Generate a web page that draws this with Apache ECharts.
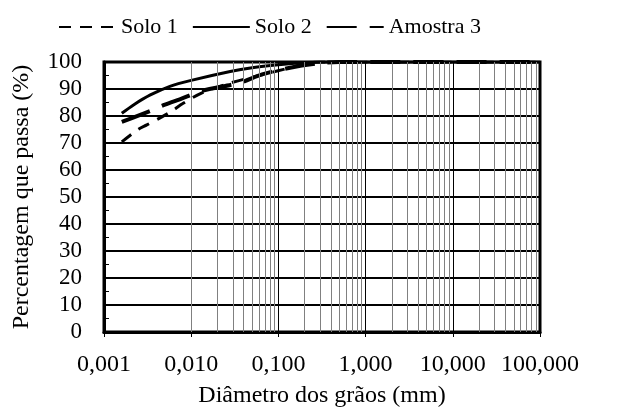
<!DOCTYPE html>
<html>
<head>
<meta charset="utf-8">
<script src="https://cdn.jsdelivr.net/npm/echarts@6/dist/echarts.min.js"></script>
<style>
  html, body { margin: 0; padding: 0; background: #fff; }
  #chart { width: 627px; height: 417px; }
</style>
</head>
<body>
<div id="chart"></div>
<script>
var solo1D = [0.0016, 0.0024, 0.0031, 0.0044, 0.006, 0.008, 0.0133, 0.028, 0.065, 0.136, 0.19, 0.3, 100];
var solo1P = [70.4, 74.8, 76.7, 79.3, 81.8, 84.6, 88.6, 92.2, 95.3, 97.9, 99.3, 100, 100];

var solo2D = [0.0016, 0.0022, 0.0034, 0.0057, 0.01, 0.028, 0.05, 0.1, 0.2, 0.3, 100];
var solo2P = [81, 84.2, 87.8, 91, 93.2, 96.5, 97.9, 99, 99.8, 100, 100];

var amostraD = [0.0016, 0.0034, 0.005, 0.0074, 0.0133, 0.036, 0.065, 0.136, 0.3, 0.5, 100];
var amostraP = [77.8, 81.9, 84.2, 86.2, 89.3, 92.3, 95.4, 97.9, 99.6, 100, 100];

var xTicks = [0.001, 0.01, 0.1, 1, 10, 100];
var minorFactors = [2, 3, 4, 5, 6, 7, 8, 9];

function pairs(xs, ys) {
  return xs.map(function(x, i) { return [x, ys[i]]; });
}

// minor vertical grid lines at 2..9 x each decade
var minorLines = [];
xTicks.slice(0, -1).forEach(function(d) {
  minorFactors.forEach(function(f) { minorLines.push({ xAxis: d * f }); });
});

var font = 'Liberation Serif';
var chart = echarts.init(document.getElementById('chart'), null, { renderer: 'canvas' });
chart.setOption({
  animation: false,
  textStyle: { fontFamily: font, color: '#000' },
  legend: {
    left: 53,
    top: 11,
    itemWidth: 57,
    itemHeight: 14,
    itemGap: 14,
    itemStyle: { opacity: 0 },
    textStyle: { fontFamily: font, fontSize: 22, color: '#000' },
    data: ['Solo 1', 'Solo 2', 'Amostra 3']
  },
  grid: {
    left: 104, right: 87, top: 62, bottom: 85,
    show: true, borderColor: '#000', borderWidth: 3
  },
  xAxis: {
    type: 'log',
    logBase: 10,
    min: 0.001,
    max: 100,
    name: 'Diâmetro dos grãos (mm)',
    nameLocation: 'middle',
    nameGap: 52,
    nameTextStyle: { fontFamily: font, fontSize: 24, color: '#000' },
    axisLine: { show: true, lineStyle: { color: '#000', width: 3 } },
    axisTick: { show: true, length: 5, lineStyle: { color: '#000', width: 1 } },
    axisLabel: {
      fontFamily: font, fontSize: 24, color: '#000', margin: 21,
      formatter: function(v) { return v.toFixed(3).replace('.', ','); }
    },
    splitLine: { show: true, lineStyle: { color: '#000', width: 1 } }
  },
  yAxis: {
    type: 'value',
    min: 0,
    max: 100,
    interval: 10,
    name: 'Percentagem que passa (%)',
    nameLocation: 'middle',
    nameGap: 70,
    nameTextStyle: { fontFamily: font, fontSize: 24, color: '#000' },
    axisLine: { show: true, lineStyle: { color: '#000', width: 3 } },
    axisTick: { show: true, inside: true, length: 0 },
    minorTick: { show: true, splitNumber: 2, length: 5, lineStyle: { color: '#000', width: 1 } },
    axisLabel: { fontFamily: font, fontSize: 23, color: '#000', margin: 22 },
    splitLine: { show: true, lineStyle: { color: '#000', width: 2 } }
  },
  series: [
    {
      name: 'grid-minor',
      type: 'line',
      data: [],
      silent: true,
      markLine: {
        silent: true,
        symbol: 'none',
        label: { show: false },
        lineStyle: { color: '#808080', width: 1, type: 'solid' },
        data: minorLines
      }
    },
    {
      name: 'Solo 1',
      type: 'line',
      data: pairs(solo1D, solo1P),
      smooth: 0.3,
      symbol: 'none',
      lineStyle: { color: '#000', width: 3, type: [12, 9] },
      itemStyle: { color: '#000' }
    },
    {
      name: 'Solo 2',
      type: 'line',
      data: pairs(solo2D, solo2P),
      smooth: 0.3,
      symbol: 'none',
      lineStyle: { color: '#000', width: 3, type: 'solid' },
      itemStyle: { color: '#000' }
    },
    {
      name: 'Amostra 3',
      type: 'line',
      data: pairs(amostraD, amostraP),
      smooth: 0.3,
      symbol: 'none',
      lineStyle: { color: '#000', width: 4, type: [30, 13] },
      itemStyle: { color: '#000' }
    }
  ]
});
</script>
</body>
</html>
